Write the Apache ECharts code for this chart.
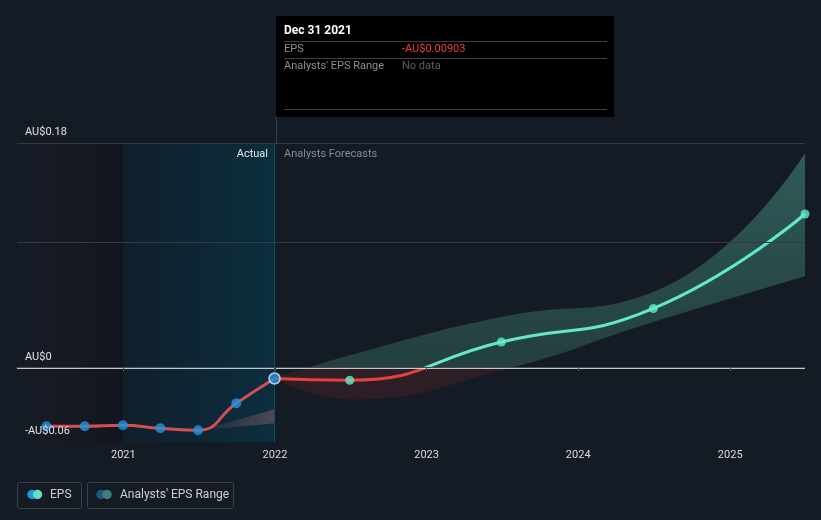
<!DOCTYPE html>
<html>
<head>
<meta charset="utf-8">
<script src="https://cdn.jsdelivr.net/npm/echarts@6/dist/echarts.min.js"></script>
<style>
html,body{margin:0;padding:0;background:#151b25;}
#c{width:821px;height:520px;}
</style>
</head>
<body>
<div id="c"></div>
<script>
// ---- data ----
const actualDates = ['2020-06-30','2020-09-30','2020-12-31','2021-03-31','2021-06-30','2021-09-30','2021-12-31'];
const actualEPS   = [-0.0474, -0.0474, -0.0466, -0.0490, -0.0506, -0.0289, -0.00903];
const forecastDates = ['2021-12-31','2022-06-30','2023-06-30','2024-06-30','2025-06-30'];
const forecastEPS   = [-0.00903, -0.0104, 0.0203, 0.0472, 0.123];
const rangeHigh     = [-0.00903, 0.0096, 0.0404, 0.0605, 0.1717];
const rangeLow      = [-0.00903, -0.0257, -0.0024, 0.0364, 0.0731];
const pastRangeDates = ['2021-06-30','2021-09-30','2021-12-31'];
const pastRangeHigh  = [-0.0506, -0.0426, -0.0335];
const pastRangeLow   = [-0.0506, -0.0479, -0.0450];
const yLabelValues = [-0.06, 0, 0.18];
const gridValues = [0.18, 0.1];
const axisMin = '2020-04-20', axisMax = '2025-06-30';
const actualStart = '2021-01-01', actualEnd = '2021-12-31';

function fmtAU(v, digits){
  let s = Math.abs(v).toFixed(digits);
  if (s.indexOf('.') >= 0) s = s.replace(/0+$/,'').replace(/\.$/,'');
  return (v < 0 ? '-' : '') + 'AU$' + s;
}
const pair = (d, v) => d.map((x,i)=>[x, v[i]]);

const chart = echarts.init(document.getElementById('c'), null, {renderer:'canvas'});
const font = 'Roboto, "Noto Sans", sans-serif';
const G = echarts.graphic.LinearGradient;

const option = {
  backgroundColor: '#151b25',
  animation: false,
  textStyle: {fontFamily: font},
  grid: {left: 17, right: 16, top: 143, bottom: 78, containLabel: false},
  xAxis: {
    type: 'time', min: axisMin, max: axisMax, z: 8,
    minInterval: 365*24*3600*1000, maxInterval: 366*24*3600*1000,
    axisLine: {lineStyle: {color: '#454a54', width: 1}},
    axisTick: {show: true, length: 4, lineStyle: {color: '#454a54'}},
    splitLine: {show: false},
    axisLabel: {color: '#dcdcdc', fontSize: 11, margin: 8, fontFamily: font,
      formatter: v => String(new Date(v).getFullYear())}
  },
  yAxis: {
    type: 'value', min: -0.06, max: 0.18, interval: 0.06, z: 8,
    axisLine: {show: false}, axisTick: {show: false}, splitLine: {show: false},
    axisLabel: {inside: true, verticalAlign: 'bottom', margin: 8, padding: [0,0,5,0],
      showMinLabel: true, showMaxLabel: true,
      color: '#e0e0e0', fontSize: 11, fontFamily: font,
      formatter: v => yLabelValues.some(t => Math.abs(t - v) < 1e-9) ? fmtAU(v, 2) : ''}
  },
  series: [
    { // past range base + background regions
      type: 'line', z: 1, stack: 'past', stackStrategy: 'all', smooth: true, showSymbol: false,
      data: pair(pastRangeDates, pastRangeLow), lineStyle: {opacity: 0}, silent: true,
      markArea: {silent: true, data: [
        [{xAxis: axisMin, itemStyle: {color: new G(0,0,1,0,[{offset:0,color:'#161c26'},{offset:1,color:'#13161e'}])}}, {xAxis: actualStart}],
        [{xAxis: actualStart, itemStyle: {color: new G(0,0,1,0,[{offset:0,color:'#111f2b'},{offset:1,color:'#0b2e3e'}])}}, {xAxis: actualEnd}]
      ]},
      markLine: {silent: true, symbol: 'none', label: {show: false},
        lineStyle: {color: '#353a44', width: 1, type: 'solid'},
        data: gridValues.map(v => ({yAxis: v}))}
    },
    { // past range width
      type: 'line', z: 2, stack: 'past', stackStrategy: 'all', smooth: true, showSymbol: false, silent: true,
      data: pair(pastRangeDates, pastRangeHigh.map((h,i)=>h - pastRangeLow[i])),
      lineStyle: {opacity: 0},
      areaStyle: {opacity: 1, color: new G(0,0,1,0,[{offset:0,color:'rgba(90,75,90,0.1)'},{offset:1,color:'rgba(100,80,95,0.75)'}])}
    },
    { // forecast range base
      type: 'line', z: 2, stack: 'fc', stackStrategy: 'all', smooth: true, showSymbol: false, silent: true,
      data: pair(forecastDates, rangeLow), lineStyle: {opacity: 0}
    },
    { // forecast range width
      type: 'line', z: 2, stack: 'fc', stackStrategy: 'all', smooth: true, showSymbol: false, silent: true,
      data: pair(forecastDates, rangeHigh.map((h,i)=>h - rangeLow[i])),
      lineStyle: {opacity: 0},
      areaStyle: {opacity: 1, color: '#2c5553'}
    },
    { // forecast EPS line
      type: 'line', z: 4, smooth: true, showSymbol: false, silent: true,
      data: pair(forecastDates, forecastEPS),
      lineStyle: {width: 3, color: '#64e8cb'}
    },
    { // actual EPS line
      type: 'line', z: 4, smooth: true, showSymbol: false, silent: true,
      data: pair(actualDates, actualEPS),
      lineStyle: {width: 3, color: '#d24f53'},
      markLine: {silent: true, symbol: 'none', label: {show: false},
        data: [
          {yAxis: 0, lineStyle: {color: '#ffffff', width: 1.5, type: 'solid'}},
          {xAxis: actualEnd, lineStyle: {color: '#1c4a58', width: 1, type: 'solid'}}
        ]}
    },
    { // actual points
      type: 'scatter', z: 5, symbolSize: 10, silent: true,
      data: pair(actualDates, actualEPS).map((p,i,a) => i === a.length-1
        ? {value: p, itemStyle: {color: '#2394df', borderColor: '#d8ecff', borderWidth: 1.5}, symbolSize: 11}
        : {value: p}),
      itemStyle: {color: '#2394df'}
    },
    { // forecast points
      type: 'scatter', z: 5, symbolSize: 9, silent: true,
      data: pair(forecastDates.slice(1), forecastEPS.slice(1)),
      itemStyle: {color: '#64e8cb'}
    }
  ],
  graphic: [
    {type: 'line', z: 10, shape: {x1: 276.5, y1: 117, x2: 276.5, y2: 143}, style: {stroke: '#1c4a58', lineWidth: 1}},
    {type: 'text', z: 10, x: 268, y: 154, style: {text: 'Actual', fill: '#e6e6e6', font: '11px ' + font, align: 'right', verticalAlign: 'middle'}},
    {type: 'text', z: 10, x: 284, y: 154, style: {text: 'Analysts Forecasts', fill: '#878c95', font: '11px ' + font, align: 'left', verticalAlign: 'middle'}},
    // tooltip box
    {type: 'rect', z: 20, shape: {x: 276, y: 16, width: 338, height: 101}, style: {fill: '#000000'}},
    {type: 'text', x: 284, y: 31, z: 21, style: {text: 'Dec 31 2021', fill: '#ffffff', font: 'bold 12px ' + font, verticalAlign: 'middle'}},
    {type: 'line', z: 21, shape: {x1: 284, y1: 41.5, x2: 607, y2: 41.5}, style: {stroke: '#3e3e3e', lineWidth: 1}},
    {type: 'text', x: 284, y: 49, z: 21, style: {text: 'EPS', fill: '#8e8e8e', font: '11px ' + font, verticalAlign: 'middle'}},
    {type: 'text', x: 402, y: 49, z: 21, style: {text: fmtAU(actualEPS[actualEPS.length-1], 5), fill: '#e5403f', font: '11px ' + font, verticalAlign: 'middle'}},
    {type: 'line', z: 21, shape: {x1: 284, y1: 58.5, x2: 607, y2: 58.5}, style: {stroke: '#3e3e3e', lineWidth: 1}},
    {type: 'text', x: 284, y: 66, z: 21, style: {text: "Analysts' EPS Range", fill: '#8e8e8e', font: '11px ' + font, verticalAlign: 'middle'}},
    {type: 'text', x: 402, y: 66, z: 21, style: {text: 'No data', fill: '#5e5e5e', font: '11px ' + font, verticalAlign: 'middle'}},
    {type: 'line', z: 21, shape: {x1: 284, y1: 109.5, x2: 607, y2: 109.5}, style: {stroke: '#3e3e3e', lineWidth: 1}},
    // legend
    {type: 'rect', z: 10, shape: {x: 17.5, y: 482.5, width: 64, height: 26, r: 2}, style: {fill: 'none', stroke: '#3b414b', lineWidth: 1}},
    {type: 'circle', z: 10, shape: {cx: 32, cy: 494.5, r: 4.7}, style: {fill: '#2394df'}},
    {type: 'circle', z: 11, shape: {cx: 37.5, cy: 494.5, r: 4.7}, style: {fill: '#5fe3c6'}},
    {type: 'text', z: 10, x: 50, y: 495, style: {text: 'EPS', fill: '#cfcfcf', font: '12px ' + font, verticalAlign: 'middle'}},
    {type: 'rect', z: 10, shape: {x: 87.5, y: 482.5, width: 146, height: 26, r: 2}, style: {fill: 'none', stroke: '#3b414b', lineWidth: 1}},
    {type: 'circle', z: 10, shape: {cx: 101, cy: 494.5, r: 4.7}, style: {fill: '#1d5a80'}},
    {type: 'circle', z: 11, shape: {cx: 107, cy: 494.5, r: 4.7}, style: {fill: '#3d8078'}},
    {type: 'text', z: 10, x: 120, y: 495, style: {text: "Analysts' EPS Range", fill: '#cfcfcf', font: '12px ' + font, verticalAlign: 'middle'}}
  ]
};
chart.setOption(option);

// colour split at zero using the chart's own y scale (global pixel gradients)
const y0 = chart.convertToPixel({yAxisIndex: 0}, 0);
const yTop = chart.convertToPixel({yAxisIndex: 0}, Math.max(...rangeHigh));
const yBot = chart.convertToPixel({yAxisIndex: 0}, -0.06);
const fz = (y0 - yTop) / (yBot - yTop);
chart.setOption({
  series: [{}, {}, {},
    {areaStyle: {color: new G(0, yTop, 0, yBot, [
      {offset: 0, color: '#2f5b58'},
      {offset: fz - 0.001, color: '#233f3f'},
      {offset: fz, color: '#2e1e26'},
      {offset: 1, color: '#2a1c24'}], true)}},
    {lineStyle: {color: new G(0, yTop, 0, yBot, [
      {offset: 0, color: '#64e8cb'},
      {offset: fz, color: '#64e8cb'},
      {offset: fz, color: '#e5403f'},
      {offset: 1, color: '#e5403f'}], true)}}
  ]
});
</script>
</body>
</html>
